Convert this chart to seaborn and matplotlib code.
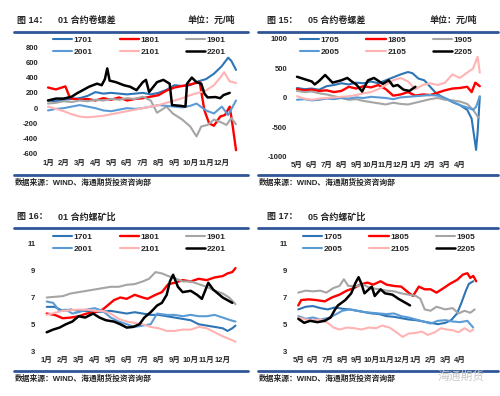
import matplotlib
matplotlib.use("Agg")
import matplotlib.pyplot as plt
from matplotlib.lines import Line2D
import seaborn as sns
import pandas as pd

sns.set_style("white")
plt.rcParams["font.family"] = ["Liberation Sans", "Noto Sans CJK SC"]
plt.rcParams["axes.unicode_minus"] = False

W, H = 500, 396

# ---- data: (month position, value); month 0 = first tick label ----
# 图14  01合约卷螺差
p14_1701 = [(0,100),(0.5,90),(1,110),(1.5,120),(2,130),(2.5,160),(3,210),(3.5,190),(4,200),(4.5,190),
            (5,180),(5.5,190),(6,200),(6.5,180),(7,200),(7.5,240),(8,300),(8.5,290),(9,300),(9.5,350),
            (10,380),(10.5,450),(11,550),(11.4,660),(11.6,620),(11.9,500)]
p14_1801 = [(0,270),(0.5,245),(1.1,285),(1.4,130),(2,110),(2.5,120),(3,100),(3.5,130),(4,110),(4.5,140),
            (5,100),(5.5,120),(6,130),(6.5,150),(7,170),(7.5,230),(8,270),(8.5,290),(9,310),(9.6,340),
            (9.9,-30),(10.2,-200),(10.5,-230),(10.9,-110),(11.2,-90),(11.5,20),(11.7,-250),(11.9,-550)]
p14_1901 = [(0,60),(0.5,70),(1,90),(1.5,80),(2,100),(2.5,90),(3,110),(3.5,100),(4,120),(4.5,110),
            (5,130),(5.5,120),(6,150),(6.5,100),(6.9,-60),(7.5,20),(7.9,-70),(8.5,-150),(9,-240),(9.4,-370),
            (9.7,-240),(10.1,-220),(10.5,-150),(10.9,-180),(11.3,-220),(11.6,-130),(11.9,-210)]
p14_2001 = [(0,-30),(0.5,-10),(1,0),(1.5,20),(2,40),(2.5,20),(3,0),(3.5,-30),(4,-40),(4.5,-20),
            (5,0),(5.5,-10),(6,0),(6.5,20),(7,40),(7.5,30),(8,20),(8.5,10),(9,30),(9.4,60),
            (10,-30),(10.5,-70),(11,20),(11.4,-90),(11.9,100)]
p14_2101 = [(0,20),(0.5,-10),(1,-40),(1.5,-80),(2,-110),(2.5,-120),(3,-110),(3.5,-100),(4,-80),(4.5,-60),
            (5,-40),(5.5,-20),(6,0),(6.5,20),(7,40),(7.5,70),(8,100),(8.5,130),(9,170),(9.5,200),
            (10,230),(10.5,300),(10.9,400),(11.15,470),(11.5,350),(11.9,330)]
p14_2201 = [(0,100),(0.5,125),(1,125),(1.5,150),(1.8,190),(2.2,235),(2.6,280),(3.1,320),(3.4,300),(3.6,380),
            (3.75,520),(3.9,360),(4.3,340),(4.8,300),(5.2,280),(5.6,235),(6,340),(6.2,370),(6.4,210),(6.9,340),
            (7.3,370),(7.7,320),(7.85,40),(8.4,30),(8.7,20),(8.8,320),(9.1,400),(9.4,340),(9.7,320),(9.9,190),
            (10.1,140),(10.6,145),(10.9,130),(11.1,170),(11.5,200)]

# 图15  05合约卷螺差
p15_1705 = [(0,170),(0.5,150),(1,160),(1.5,140),(2,200),(2.5,220),(3,250),(3.5,230),(4,260),(4.5,250),
            (5,280),(5.5,250),(6,300),(6.5,350),(7,400),(7.5,440),(7.8,420),(8.2,330),(8.6,300),(9,190),
            (9.4,80),(9.8,20),(10.2,-30),(10.6,-80),(11,-120),(11.5,-200),(11.8,-350),(12.1,-880),(12.2,-600),(12.35,20)]
p15_1805 = [(0,150),(0.5,130),(1,140),(1.5,120),(2,130),(2.5,100),(3,120),(3.5,190),(4,160),(4.5,200),
            (5,180),(5.5,220),(6,150),(6.5,40),(7,60),(7.5,100),(8,40),(8.5,60),(9,50),(9.5,90),
            (10,130),(10.5,160),(11,170),(11.5,190),(11.8,100),(12.05,260),(12.35,200)]
p15_1905 = [(0,120),(0.5,100),(1,110),(1.5,80),(2,60),(2.5,30),(3,0),(3.5,-30),(4,-20),(4.5,-50),
            (5,-70),(5.5,-90),(6,-110),(6.5,-80),(7,-100),(7.5,-110),(8,-80),(8.5,-50),(9,-20),(9.5,0),
            (10,-30),(10.5,-40),(11,-60),(11.5,-100),(11.9,-200),(12.25,-330)]
p15_2005 = [(0,-30),(0.5,-20),(1,-40),(1.5,-30),(2,-10),(2.5,-20),(3,0),(3.5,-10),(4,10),(4.5,0),
            (5,20),(5.5,10),(6,0),(6.5,-20),(7,10),(7.5,20),(8,30),(8.5,40),(9,50),(9.5,40),
            (10,0),(10.5,-60),(11,-120),(11.5,-160),(11.9,-200),(12.1,-150),(12.35,30)]
p15_2105 = [(0,30),(0.5,-10),(1,-30),(1.5,-10),(2,0),(2.5,10),(3,20),(3.5,30),(4,50),(4.5,80),
            (5,100),(5.5,150),(6,220),(6.5,300),(7,340),(7.5,280),(8,150),(8.5,220),(9,250),(9.5,220),
            (10,260),(10.5,400),(11,340),(11.5,430),(11.9,500),(12.2,700),(12.35,430)]
p15_2205 = [(0,360),(0.5,320),(1,280),(1.2,230),(1.5,290),(1.9,390),(2.4,260),(3,300),(3.4,340),(3.7,280),
            (4,230),(4.4,110),(4.8,300),(5.2,340),(5.5,290),(5.8,240),(6.2,300),(6.5,200),(6.8,220),(7.2,140),
            (7.6,120),(8,190)]

# 图16  01合约螺矿比
p16_1701 = [(0,6.3),(0.5,6.3),(1,6.0),(1.5,6.1),(2,6.0),(2.5,6.0),(3,5.9),(3.5,5.95),(4,6.0),(4.5,5.9),
            (5,5.8),(5.5,5.9),(6,5.8),(6.5,5.7),(7,5.7),(7.5,5.6),(8,5.5),(8.5,5.4),(9,5.3),(9.5,5.0),
            (10,4.9),(10.5,4.8),(11,4.7),(11.3,4.5),(11.6,4.7),(11.8,4.9)]
p16_1801 = [(0,5.8),(0.5,5.7),(1,5.45),(1.5,5.5),(2,5.6),(2.5,5.8),(3,5.9),(3.5,6.1),(3.8,6.4),(4.2,6.8),
            (4.6,7.0),(5,6.9),(5.5,7.2),(6,7.0),(6.3,6.9),(6.8,7.2),(7.2,7.4),(7.6,8.0),(8,8.1),(8.5,8.3),
            (9,8.2),(9.5,8.4),(10,8.3),(10.5,8.5),(11,8.6),(11.3,8.8),(11.6,8.9),(11.8,9.2)]
p16_1901 = [(0,7.0),(0.5,7.05),(1,7.1),(1.5,7.3),(2,7.4),(2.5,7.5),(3,7.6),(3.5,7.7),(4,7.8),(4.5,7.8),
            (5,7.95),(5.5,8.0),(6,8.2),(6.4,8.4),(6.8,8.9),(7.2,8.8),(7.6,8.6),(8,8.45),(8.5,8.2),(9,8.2),
            (9.5,8.0),(10,7.8),(10.5,7.5),(11,7.3),(11.4,7.0),(11.8,6.5)]
p16_2001 = [(0,6.7),(0.4,6.6),(0.8,6.0),(1.2,6.1),(1.6,5.8),(2,5.9),(2.5,6.1),(3,6.2),(3.5,6.0),(4,5.5),
            (4.5,5.2),(5,5.0),(5.5,4.8),(6,4.9),(6.5,5.0),(6.9,5.8),(7.5,5.7),(8,5.7),(8.5,5.6),(9,5.7),
            (9.5,5.6),(10,5.6),(10.5,5.7),(11,5.5),(11.5,5.3),(11.8,5.2)]
p16_2101 = [(0,5.7),(0.5,5.85),(1,6.0),(1.5,6.05),(2,6.1),(2.5,6.1),(3,6.0),(3.5,6.0),(4,5.8),(4.5,5.4),
            (5,5.2),(5.5,5.1),(6,5.0),(6.5,4.8),(7,4.7),(7.5,4.5),(8,4.5),(8.5,4.6),(9,4.6),(9.5,4.8),
            (10,4.7),(10.5,4.4),(11,4.1),(11.4,3.9),(11.8,3.7)]
p16_2201 = [(0,4.4),(0.4,4.6),(0.8,4.75),(1.2,5.0),(1.6,5.2),(2,5.6),(2.4,5.5),(2.9,5.8),(3.3,5.5),(3.7,5.3),
            (4.2,5.2),(4.6,5.0),(5,4.75),(5.4,4.8),(5.8,5.0),(6.1,5.5),(6.5,5.9),(6.9,6.4),(7.2,6.6),(7.5,7.2),
            (7.7,8.2),(7.9,8.7),(8.2,7.8),(8.5,7.4),(9,7.5),(9.4,7.2),(9.7,6.9),(10.1,8.1),(10.4,7.6),(10.7,7.3),
            (11,7.0),(11.3,6.8),(11.6,6.6)]

# 图17  05合约螺矿比
p17_1705 = [(0,6.1),(0.5,6.3),(1,6.35),(1.5,6.2),(2,6.1),(2.5,6.25),(3,6.15),(3.5,6.1),(4,6.0),(4.5,5.9),
            (5,5.8),(5.5,5.75),(6,5.6),(6.5,5.55),(7,5.45),(7.5,5.35),(8,5.3),(8.5,5.2),(9,5.1),(9.5,5.0),
            (10,5.1),(10.4,5.3),(10.8,5.8),(11.1,6.6),(11.4,7.5),(11.6,8.0),(11.9,8.2)]
p17_1805 = [(0,6.4),(0.2,6.8),(0.7,6.85),(1.2,6.8),(1.8,6.7),(2.3,7.0),(2.8,7.2),(3.3,7.5),(3.8,7.7),(4.2,7.95),
            (4.7,8.1),(5.1,7.95),(5.6,8.2),(6,7.95),(6.5,7.85),(7,7.8),(7.5,7.35),(7.8,7.1),(8.2,7.8),(8.6,7.6),
            (9,7.6),(9.4,7.35),(9.9,7.7),(10.3,8.0),(10.8,8.3),(11.2,8.7),(11.5,8.8),(11.7,8.45),(11.9,8.6),(12.1,8.2)]
p17_1905 = [(0,7.35),(0.5,7.5),(1,7.45),(1.5,7.5),(1.9,7.35),(2.4,7.7),(2.8,7.85),(3.1,8.35),(3.4,7.85),(4,7.85),
            (4.4,7.95),(4.9,7.7),(5.5,7.6),(6,7.5),(6.5,7.45),(7,7.3),(7.5,7.2),(8,7.1),(8.3,6.9),(8.6,6.1),
            (9,6.0),(9.4,6.3),(10,6.1),(10.5,6.2),(10.9,5.8),(11.3,6.0),(11.7,5.85),(12,6.1)]
p17_2005 = [(0,5.6),(0.5,5.4),(1,5.5),(1.5,5.35),(2,5.45),(2.5,5.7),(3,6.0),(3.5,6.1),(4,6.0),(4.5,5.9),
            (5,5.85),(5.5,5.8),(6,5.75),(6.5,5.8),(7,5.6),(7.5,5.5),(8,5.35),(8.5,5.2),(9,5.05),(9.5,5.25),
            (10,5.3),(10.5,5.2),(11,5.15),(11.5,5.25),(11.9,4.75)]
p17_2105 = [(0,5.5),(0.5,5.35),(1,5.3),(1.5,5.35),(2,5.1),(2.4,4.75),(2.8,4.6),(3.3,4.75),(3.8,4.7),(4.3,4.6),
            (4.8,4.75),(5.3,4.7),(5.7,4.9),(6.2,4.75),(6.6,4.45),(7.1,4.05),(7.5,4.3),(8,4.35),(8.4,4.45),(8.8,4.2),
            (9.3,4.4),(9.7,4.7),(10.1,4.6),(10.5,4.55),(10.9,4.4),(11.3,4.7),(11.7,4.45),(11.9,4.6)]
p17_2205 = [(0,5.4),(0.4,5.1),(0.8,5.25),(1.3,5.15),(1.8,5.25),(2.2,5.5),(2.5,6.1),(2.7,6.4),(3.2,6.8),(3.6,7.3),
            (3.9,8.1),(4.1,8.5),(4.3,8.0),(4.5,7.3),(5,7.8),(5.2,7.1),(5.6,7.6),(5.9,7.3),(6.4,7.2),(6.8,6.9),
            (7.2,6.65),(7.6,6.4)]

months_01 = ["1月", "2月", "3月", "4月", "5月", "6月", "7月", "8月", "9月", "10月", "11月", "12月"]
months_05 = ["5月", "6月", "7月", "8月", "9月", "10月", "11月", "12月", "1月", "2月", "3月", "4月"]

colors = ["#2E75B6", "#FF0000", "#A5A5A5", "#5B9BD5", "#FFB3B3", "#000000"]
widths = [1.5, 1.7, 1.5, 1.5, 1.5, 1.8]

fig = plt.figure(figsize=(W / 100, H / 100), dpi=100)


def fx(px):
    return px / W


def fy(py):
    return 1 - py / H


panels = [
    dict(series=[p14_1701, p14_1801, p14_1901, p14_2001, p14_2101, p14_2201],
         labels=["1701", "1801", "1901", "2001", "2101", "2201"], months=months_01,
         x0=48, step=15.8, xlim=(-0.3, 12.2), top=47, bot=154, ylim=(-600, 800),
         yticks=range(-600, 801, 200), ypad=3.6, xpad=4.4, leg=(53, 36.5),
         hx=15, hy=20, num="图 14：", title="01 合约卷螺差", unit="单位：元/吨", unitx=235,
         rule=(14, 248), r1=31.5, r2=174.5, src=183),
    dict(series=[p15_1705, p15_1805, p15_1905, p15_2005, p15_2105, p15_2205],
         labels=["1705", "1805", "1905", "2005", "2105", "2205"], months=months_05,
         x0=297, step=14.8, xlim=(-0.3, 12.6), top=39, bot=157, ylim=(-1000, 1000),
         yticks=range(-1000, 1001, 500), ypad=3.8, xpad=3.6, leg=(300, 36.5),
         hx=265, hy=20, num="图 15：", title="05 合约卷螺差", unit="单位：元/吨", unitx=477,
         rule=(258, 498), r1=31.5, r2=174.5, src=183),
    dict(series=[p16_1701, p16_1801, p16_1901, p16_2001, p16_2101, p16_2201],
         labels=["1701", "1801", "1901", "2001", "2101", "2201"], months=months_01,
         x0=46.7, step=16.0, xlim=(-0.3, 12.1), top=244, bot=351, ylim=(3, 11),
         yticks=range(3, 12, 2), ypad=4.8, xpad=4.0, leg=(53, 233.5),
         hx=15, hy=217, num="图 16：", title="01 合约螺矿比", unit=None, unitx=None,
         rule=(14, 248), r1=228, r2=371, src=379),
    dict(series=[p17_1705, p17_1805, p17_1905, p17_2005, p17_2105, p17_2205],
         labels=["1705", "1805", "1905", "2005", "2105", "2205"], months=months_05,
         x0=298.3, step=14.7, xlim=(-0.3, 12.4), top=243.7, bot=351, ylim=(3, 11),
         yticks=range(3, 12, 2), ypad=4.8, xpad=4.0, leg=(303, 233.5),
         hx=265, hy=217, num="图 17：", title="05 合约螺矿比", unit=None, unitx=None,
         rule=(258, 498), r1=228, r2=371, src=379),
]

rule_color = "#2F5597"

for p in panels:
    left = p["x0"] + p["xlim"][0] * p["step"]
    right = p["x0"] + p["xlim"][1] * p["step"]
    ax = fig.add_axes([fx(left), fy(p["bot"]), fx(right - left), (p["bot"] - p["top"]) / H])
    for pts, lab, c, lw in zip(p["series"], p["labels"], colors, widths):
        df = pd.DataFrame(pts, columns=["m", "v"])
        sns.lineplot(data=df, x="m", y="v", color=c, linewidth=lw, label=lab, ax=ax,
                     estimator=None, sort=False)
    ax.set_xlim(*p["xlim"])
    ax.set_ylim(*p["ylim"])
    ax.set_xticks(range(12))
    ax.set_xticklabels(p["months"], fontsize=5.5, fontweight="bold")
    ax.set_yticks(list(p["yticks"]))
    ax.set_yticklabels([str(v) for v in p["yticks"]], fontsize=5.5, fontweight="bold")
    ax.tick_params(axis="y", length=0, pad=p["ypad"])
    ax.tick_params(axis="x", length=0, pad=p["xpad"])
    ax.set_xlabel("")
    ax.set_ylabel("")
    for s in ax.spines.values():
        s.set_visible(False)
    ax.patch.set_alpha(0)

    handles, labels = ax.get_legend_handles_labels()
    order = [0, 3, 1, 4, 2, 5]
    ax.legend([handles[i] for i in order], [labels[i] for i in order], ncol=3,
              loc="upper left", bbox_to_anchor=(fx(p["leg"][0]), fy(p["leg"][1])),
              bbox_transform=fig.transFigure, frameon=False,
              prop={"size": 6, "weight": "bold"}, handlelength=2.3, handletextpad=0.2,
              columnspacing=3.2, labelspacing=0.45, borderpad=0, borderaxespad=0)

    # header, rules and source line
    fig.text(fx(p["hx"] + 2), fy(p["hy"]), p["num"], fontsize=6.5, fontweight="bold", va="center")
    fig.text(fx(p["hx"] + 43), fy(p["hy"]), p["title"], fontsize=6.5, fontweight="bold", va="center")
    if p["unit"]:
        fig.text(fx(p["unitx"]), fy(p["hy"]), p["unit"], fontsize=6.5, fontweight="bold",
                 va="center", ha="right")
    for ry in (p["r1"], p["r2"]):
        fig.add_artist(Line2D([fx(p["rule"][0]), fx(p["rule"][1])], [fy(ry), fy(ry)],
                              color=rule_color, linewidth=2.0, transform=fig.transFigure))
    fig.text(fx(p["rule"][0] + 1), fy(p["src"]), "数据来源：WIND、海通期货投资咨询部",
             fontsize=5.6, fontweight="bold", va="center")

# faint watermark at the bottom right
fig.text(fx(437), fy(377), "海通期货", fontsize=8.5, color="#C8C8C8", va="center")

fig.savefig("out.png", dpi=100)
